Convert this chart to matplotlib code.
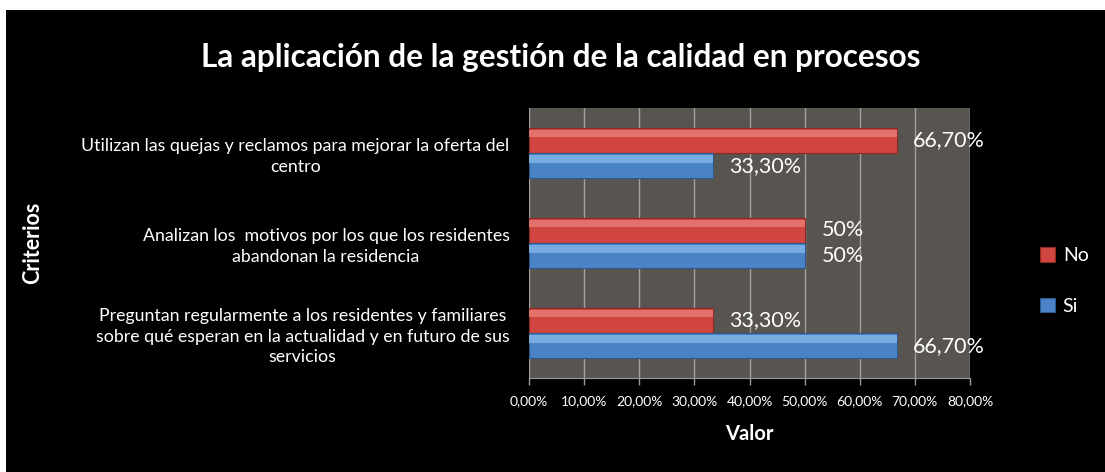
import numpy as np
import matplotlib
matplotlib.use("Agg")
import matplotlib.pyplot as plt
from matplotlib.patches import Rectangle

plt.rcParams['font.family'] = ['Lato', 'DejaVu Sans']

# data
categorias = [
    "Utilizan las quejas y reclamos para mejorar la oferta del\ncentro",
    "Analizan los  motivos por los que los residentes\nabandonan la residencia",
    "Preguntan regularmente a los residentes y familiares\nsobre qué esperan en la actualidad y en futuro de sus\nservicios",
]
valores_no = [66.7, 50.0, 33.3]
valores_si = [33.3, 50.0, 66.7]
etiquetas_no = ["66,70%", "50%", "33,30%"]
etiquetas_si = ["33,30%", "50%", "66,70%"]
ticks_x = [0, 10, 20, 30, 40, 50, 60, 70, 80]

color_no = "#d0453f"
color_si = "#4a84c6"

fig = plt.figure(figsize=(11.05, 4.72), dpi=100)
fig.patch.set_facecolor("white")
# black chart area, with the thin white margin top and left
fig.add_artist(Rectangle((6/1105, 0), 1 - 6/1105, 462/472, transform=fig.transFigure,
                         facecolor="black", edgecolor="none", zorder=0))

ax = fig.add_axes([529/1105, 94/472, 441/1105, 270/472])
ax.set_facecolor("#58544f")

y = np.arange(len(categorias))
h = 0.28
bars_no = ax.barh(y - h/2, valores_no, height=h, color=color_no,
                  edgecolor="#8e2a26", linewidth=0.8, zorder=3, label="No")
bars_si = ax.barh(y + h/2, valores_si, height=h, color=color_si,
                  edgecolor="#2c5a8e", linewidth=0.8, zorder=3, label="Si")

# soft top strip to mimic the bevelled bars
ax.barh(y - h/2 - h*0.27, valores_no, height=h*0.3, color="#e2706b", linewidth=0, zorder=4)
ax.barh(y + h/2 - h*0.27, valores_si, height=h*0.3, color="#78ace0", linewidth=0, zorder=4)

for b, t in zip(bars_no, etiquetas_no):
    ax.annotate(t, (b.get_width(), b.get_y() + b.get_height()/2), xytext=(12, 0),
                textcoords="offset points", va="center", ha="left",
                color="white", fontsize=15.5)
for b, t in zip(bars_si, etiquetas_si):
    ax.annotate(t, (b.get_width(), b.get_y() + b.get_height()/2), xytext=(12, 0),
                textcoords="offset points", va="center", ha="left",
                color="white", fontsize=15.5)

ax.set_xlim(0, 80)
ax.set_ylim(-0.5, len(categorias) - 0.5)
ax.invert_yaxis()
ax.set_xticks(ticks_x)
ax.set_xticklabels([f"{v:.2f}%".replace(".", ",") for v in ticks_x], color="white", fontsize=10)
ax.tick_params(axis="x", colors="#9a9a9a", length=5, width=1, pad=7, labelcolor="white")
ax.set_yticks(y)
ax.set_yticklabels(categorias, color="white", fontsize=12.8, multialignment="center",
                   linespacing=1.35)
ax.tick_params(axis="y", length=0, pad=14)
ax.grid(axis="x", color="#a0a0a0", linewidth=1, zorder=1)
ax.set_axisbelow(True)
for s in ax.spines.values():
    s.set_visible(False)
ax.spines["bottom"].set_visible(True)
ax.spines["bottom"].set_color("#9a9a9a")

fig.text(561/1105, 1 - 57/472, "La aplicación de la gestión de la calidad en procesos",
         ha="center", va="center", color="white", fontsize=22.7, fontweight="bold")
fig.text(749/1105, 1 - 434/472, "Valor", ha="center", va="center",
         color="white", fontsize=14.5, fontweight="bold")
fig.text(33/1105, 1 - 243/472, "Criterios", ha="center", va="center", rotation=90,
         color="white", fontsize=15.5, fontweight="bold")

leg = fig.legend(handles=[bars_no, bars_si], labels=["No", "Si"],
                 loc="center left", bbox_to_anchor=(1022/1105, 1 - 281/472),
                 frameon=False, fontsize=14, labelcolor="white",
                 handlelength=0.8, handleheight=0.8, handletextpad=0.4, labelspacing=1.7)

fig.savefig("out.png", dpi=100, facecolor=fig.get_facecolor())
